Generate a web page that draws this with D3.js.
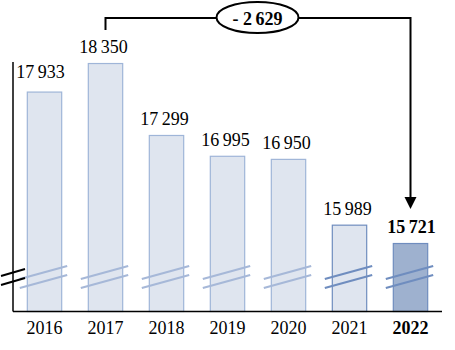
<!DOCTYPE html>
<html><head><meta charset="utf-8">
<script src="https://cdn.jsdelivr.net/npm/d3@7"></script>
<style>body{margin:0;background:#fff}svg{display:block}</style>
</head><body>
<script>
const years = ["2016","2017","2018","2019","2020","2021","2022"];
const values = [17933, 18350, 17299, 16995, 16950, 15989, 15721];
const valueLabels = ["17\u2009933","18\u2009350","17\u2009299","16\u2009995","16\u2009950","15\u2009989","15\u2009721"];
const diffLabel = "- 2\u2009629";

const W = 455, H = 350;
const svg = d3.select("body").append("svg").attr("width", W).attr("height", H);
const font = "'Liberation Serif', 'Times New Roman', serif";

const x = d3.scaleBand().domain(years).range([14, 441]).paddingInner(0.42).paddingOuter(0.21);
const y = d3.scaleLinear().domain([14728, 18365]).range([311, 62]);
const bw = x.bandwidth();

const fillOf = (d, i) => i === 6 ? "#9eb1cf" : "#dfe5ef";
const strokeOf = (d, i) => i >= 5 ? "#6f8dbf" : "#9fb5d8";
const breakOf = (d, i) => i >= 5 ? "#6f8dbf" : "#a6b8d8";

// bars
svg.selectAll("rect.bar").data(values).join("rect")
  .attr("x", (d, i) => x(years[i]) + 0.5)
  .attr("y", d => y(d) + 0.5)
  .attr("width", bw - 1)
  .attr("height", d => y.range()[0] - y(d))
  .attr("fill", fillOf).attr("stroke", strokeOf).attr("stroke-width", 1.2);

// break lines on bars
const by = y.range()[0];
[0, 9].forEach(off => {
  svg.selectAll(null).data(values).join("line")
    .attr("x1", (d, i) => x(years[i]) - 7).attr("y1", by - 32 + off)
    .attr("x2", (d, i) => x(years[i]) + bw + 5).attr("y2", by - 45 + off)
    .attr("stroke", breakOf).attr("stroke-width", 2.2);
});

// axes
svg.append("line").attr("x1", 13).attr("x2", 13).attr("y1", 62).attr("y2", by + 0.5)
  .attr("stroke", "#000").attr("stroke-width", 1.5);
svg.append("line").attr("x1", 13).attr("x2", 442).attr("y1", by + 0.5).attr("y2", by + 0.5)
  .attr("stroke", "#000").attr("stroke-width", 1.5);
// axis break
[0, 9].forEach(off => {
  svg.append("line").attr("x1", 1).attr("y1", by - 35 + off).attr("x2", 25).attr("y2", by - 42 + off)
    .attr("stroke", "#000").attr("stroke-width", 2);
});

// year labels
const xAxis = d3.axisBottom(x).tickSize(0).tickPadding(0);
const gx = svg.append("g").attr("transform", `translate(0,${by})`).call(xAxis);
gx.select(".domain").remove();
gx.selectAll("text")
  .attr("y", 23).attr("dy", 0)
  .attr("font-family", font).attr("font-size", 18).attr("fill", "#000")
  .attr("font-weight", (d, i) => i === 6 ? "bold" : "normal");

// value labels
svg.selectAll("text.val").data(values).join("text")
  .attr("class", "val")
  .attr("x", (d, i) => x(years[i]) + bw / 2 + (i === 0 ? -4 : i === 6 ? 1 : -2))
  .attr("y", (d, i) => y(d) - (i === 0 ? 14 : 10))
  .attr("text-anchor", "middle")
  .attr("font-family", font).attr("font-size", 18).attr("fill", "#000")
  .attr("font-weight", (d, i) => i === 6 ? "bold" : "normal")
  .text((d, i) => valueLabels[i]);

// annotation bracket
const xa = x("2017") + bw / 2, xb = x("2022") + bw / 2;
const topY = 18;
svg.append("path")
  .attr("d", `M${xa},${y(values[1]) - 33} V${topY} H${xb} V${y(values[6]) - 45}`)
  .attr("fill", "none").attr("stroke", "#000").attr("stroke-width", 2);
// arrowhead
const tipY = y(values[6]) - 34;
svg.append("path")
  .attr("d", `M${xb - 6},${tipY - 12} L${xb + 6},${tipY - 12} L${xb},${tipY} Z`)
  .attr("fill", "#000");
// ellipse label
svg.append("ellipse").attr("cx", 257.5).attr("cy", 17.5).attr("rx", 41).attr("ry", 15.5)
  .attr("fill", "#fff").attr("stroke", "#000").attr("stroke-width", 2);
svg.append("text").attr("x", 257.5).attr("y", 24.5).attr("text-anchor", "middle")
  .attr("font-family", font).attr("font-size", 18).attr("font-weight", "bold")
  .text(diffLabel);
</script>
</body></html>
